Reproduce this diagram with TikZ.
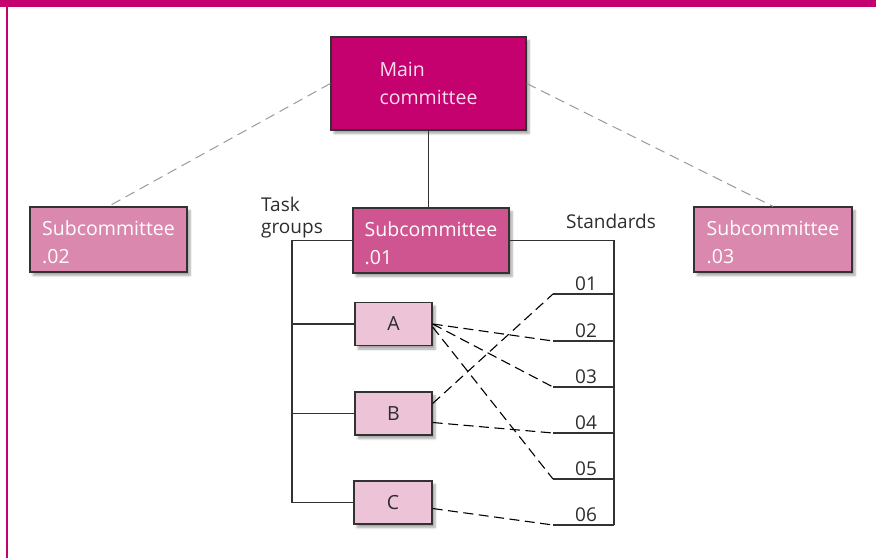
\documentclass[tikz,border=0pt]{standalone}
\usepackage{fontspec}
\setmainfont{Open Sans}
\usetikzlibrary{shadows.blur,calc}
\definecolor{brand}{RGB}{197,0,111}
\definecolor{subdark}{RGB}{207,85,144}
\definecolor{sublight}{RGB}{218,136,173}
\definecolor{taskpink}{RGB}{236,195,215}
\definecolor{inktext}{RGB}{45,45,45}
\definecolor{boxline}{RGB}{50,50,50}
\definecolor{paletext}{RGB}{248,222,236}
% extra head room on the first line of a box label
\newcommand{\headroom}{\rule{0pt}{20pt}}
\tikzset{
  box/.style={draw=boxline, line width=1.3pt, inner sep=0pt, align=left,
    font=\fontsize{19.5}{28.5}\selectfont,
    blur shadow={shadow xshift=3pt, shadow yshift=-3.5pt, shadow blur steps=6, shadow opacity=35}},
  taskbox/.style={box, fill=taskpink, text=inktext, minimum width=77pt, minimum height=43pt},
  subbox/.style={box, text=white, minimum width=157pt, minimum height=65pt},
  plain/.style={font=\fontsize{19}{22}\selectfont, text=inktext, inner sep=0pt, align=left},
  link/.style={draw=boxline, line width=1.2pt},
  taskline/.style={draw=black, line width=1.1pt, dash pattern=on 10pt off 5.5pt},
  upline/.style={draw=gray!80, line width=1pt, dash pattern=on 10pt off 6pt},
}
\begin{document}
\begin{tikzpicture}[x=1pt,y=-1pt]
\useasboundingbox (0,0) rectangle (876,558);
% frame: header band and left rule
\fill[brand] (0,0) rectangle (876,7);
\fill[brand] (6,0) rectangle (8.3,558);

% committees
\node[box, fill=brand, text=paletext, minimum width=195pt, minimum height=93pt] (main) at (428.5,83.5) {Main\\committee};
\node[subbox, fill=sublight] (s2) at (108.5,239.5) {\headroom Subcommittee\\.02};
\node[subbox, fill=subdark, minimum width=156pt] (s1) at (431,240.5) {\headroom Subcommittee\\.01};
\node[subbox, fill=sublight, minimum width=158pt] (s3) at (773,239.5) {\headroom Subcommittee\\.03};

% task groups
\node[taskbox] (A) at (393.5,324) {A};
\node[taskbox] (B) at (393.5,413.5) {B};
\node[taskbox, minimum width=78pt] (C) at (393,502.5) {C};

\node[plain, anchor=north west] (tglabel) at (261,197) {Task\\groups};
\node[plain, anchor=base west] (stdlabel) at (566,228) {Standards};

% links from the main committee
\draw[upline] (main.west) -- (s2.north);
\draw[upline] (main.east) -- (s3.north);
\draw[link] (main.south) -- (main.south |- s1.north);

% task group bus
\coordinate (bus) at (292,0);
\draw[link] (s1.west) -- (s1.west -| bus) -- (bus |- C.west) -- (C.west);
\draw[link] (A.west) -- (A.west -| bus);
\draw[link] (B.west) -- (B.west -| bus);

% standards rail
\coordinate (rail) at (614,0);
\draw[link] (s1.east) -- (s1.east -| rail) -- (rail |- 0,525);
\foreach \n/\y in {01/294,02/341,03/387,04/433,05/479,06/525}{
  \coordinate (L\n) at (553,\y);
  \draw[link] (L\n) -- (L\n -| rail);
  \node[plain, anchor=base] (T\n) at (586,\y-4) {\n};
}

% task group to standard assignments
\draw[taskline] (A.east) -- (L02);
\draw[taskline] (A.east) -- (L03);
\draw[taskline] ([yshift=-3pt]A.east) -- (L05);
\draw[taskline] ([yshift=10pt]B.east) -- (L01);
\draw[taskline] ([yshift=-9pt]B.east) -- (L04);
\draw[taskline] ([yshift=-6pt]C.east) -- (L06);
\end{tikzpicture}
\end{document}
